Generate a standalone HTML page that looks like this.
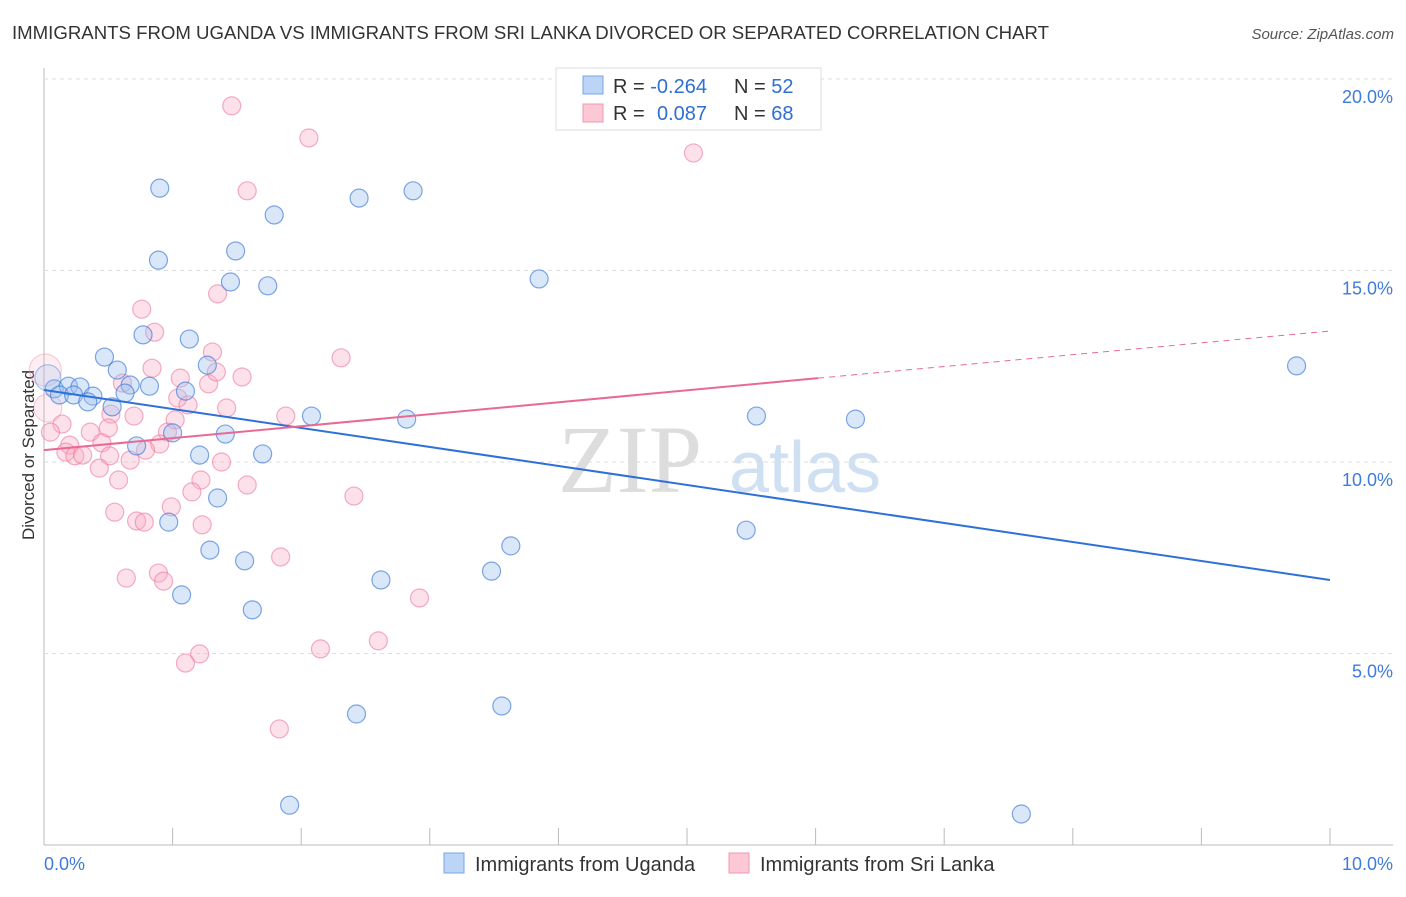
<!DOCTYPE html>
<html><head><meta charset="utf-8"><style>
body{margin:0;background:#fff;font-family:"Liberation Sans",sans-serif;}
</style></head><body>
<svg id="chart" width="1406" height="892" style="font-family:'Liberation Sans',sans-serif">
<text x="12" y="39" font-size="18.5" fill="#333" textLength="1037" lengthAdjust="spacingAndGlyphs">IMMIGRANTS FROM UGANDA VS IMMIGRANTS FROM SRI LANKA DIVORCED OR SEPARATED CORRELATION CHART</text>
<text x="1394" y="39" font-size="15" fill="#555" text-anchor="end" font-style="italic">Source: ZipAtlas.com</text>
<text transform="translate(34,455) rotate(-90)" font-size="17" fill="#333" text-anchor="middle">Divorced or Separated</text>
<text x="630" y="492" font-size="96" fill="#ddd" font-family="Liberation Serif,serif" text-anchor="middle">ZIP</text>
<text x="805" y="492" font-size="72" fill="#cfe0f3" text-anchor="middle">atlas</text>
<g id="grid"></g><g id="pts"></g><g id="lines"></g>
<g>
<rect x="556" y="68" width="265" height="62" fill="#fff" stroke="#ddd"/>
<rect x="583" y="76" width="20" height="18" fill="#bcd4f5" stroke="#7aa6e6"/>
<rect x="583" y="104" width="20" height="18" fill="#fcc8d6" stroke="#f097b0"/>
<text x="613" y="93" font-size="20" fill="#333">R = <tspan fill="#2f6fd1">-0.264</tspan><tspan x="734">N = </tspan><tspan fill="#2f6fd1">52</tspan></text>
<text x="613" y="120" font-size="20" fill="#333">R = <tspan fill="#2f6fd1" x="657">0.087</tspan><tspan x="734">N = </tspan><tspan fill="#2f6fd1">68</tspan></text>
</g>
<g>
<rect x="444" y="853" width="20" height="20" fill="#bcd4f5" stroke="#7aa6e6"/>
<text x="475" y="871" font-size="20" fill="#333">Immigrants from Uganda</text>
<rect x="729" y="853" width="20" height="20" fill="#fcc8d6" stroke="#f097b0"/>
<text x="760" y="871" font-size="20" fill="#333">Immigrants from Sri Lanka</text>
</g>
</svg>
<script>
const xTicks=[0,1,2,3,4,5,6,7,8,9,10];
const yTicks=[5,10,15,20];
const yTickLabels=["5.0%","10.0%","15.0%","20.0%"];
const ugandaX=[0.90,1.79,2.45,2.87,1.49,0.89,1.45,1.74,3.85,0.77,1.13,0.47,1.27,0.57,0.08,0.19,0.28,0.12,0.23,0.38,0.67,0.82,1.10,0.63,0.34,0.53,2.08,2.82,5.54,6.31,1.00,1.41,0.72,1.21,1.70,1.35,0.97,5.46,3.63,1.29,1.56,2.62,3.48,1.07,1.62,2.43,3.56,1.91,7.60,9.74,0.03];
const ugandaY=[17.15,16.45,16.89,17.08,15.51,15.27,14.70,14.60,14.78,13.32,13.21,12.74,12.53,12.40,11.91,11.98,11.96,11.75,11.75,11.72,12.01,11.98,11.85,11.80,11.57,11.44,11.20,11.12,11.20,11.12,10.76,10.73,10.42,10.18,10.21,9.06,8.43,8.22,7.81,7.70,7.42,6.92,7.15,6.53,6.14,3.42,3.63,1.04,0.81,12.51,12.2];
const sriX=[1.46,2.06,5.05,1.58,1.35,0.76,0.86,2.31,1.31,0.84,0.61,1.06,1.54,1.28,1.34,1.04,1.12,1.42,1.88,0.70,0.52,1.02,0.14,0.05,0.36,0.50,0.96,0.20,0.45,0.90,0.79,0.17,0.24,0.30,0.51,0.67,1.38,0.43,0.58,1.22,1.58,1.15,0.99,2.41,0.55,0.72,0.78,1.23,1.84,0.89,0.64,0.93,2.92,2.60,2.15,1.21,1.10,1.83,0.01,0.03];
const sriY=[19.30,18.46,18.07,17.08,14.39,13.99,13.39,12.72,12.87,12.45,12.06,12.19,12.22,12.04,12.35,11.67,11.49,11.41,11.20,11.20,11.25,11.10,10.99,10.78,10.78,10.89,10.78,10.44,10.50,10.47,10.31,10.26,10.16,10.18,10.16,10.05,10.00,9.84,9.53,9.53,9.40,9.22,8.83,9.11,8.69,8.46,8.43,8.36,7.52,7.10,6.97,6.89,6.45,5.33,5.12,4.99,4.75,3.03,12.40,11.41];
const ugandaLine=[11.88,6.92];
const sriLine=[10.31,12.19,13.42];
const sriSolidEnd=6.02;
const NS="http://www.w3.org/2000/svg";
const X=v=>44+v*128.6, Y=v=>845-v*38.3;
function mk(tag,attrs,parent){const e=document.createElementNS(NS,tag);for(const k in attrs)e.setAttribute(k,attrs[k]);parent.appendChild(e);return e;}
const grid=document.getElementById('grid');
const ax=mk('line',{x1:44,y1:68,x2:44,y2:845,stroke:'#bbb'},grid);


const bx=mk('line',{x1:44,y1:845,x2:1393,y2:845,stroke:'#bbb'},grid);


yTicks.forEach((t,i)=>{
 const g=mk('line',{x1:44,y1:Y(t),x2:1393,y2:Y(t),stroke:'#ddd','stroke-dasharray':'4,4'},grid);
 
 
 const tx=mk('text',{x:1393,y:Y(t)+24,'font-size':18,fill:'#3f7bd9','text-anchor':'end'},grid);
 tx.textContent=yTickLabels[i];
 
 
});
xTicks.forEach(t=>{
 const l=mk('line',{x1:X(t),y1:828,x2:X(t),y2:845,stroke:'#bbb'},grid);
 
 
});
const xl0=mk('text',{x:44,y:870,'font-size':18,fill:'#3f7bd9'},grid);xl0.textContent='0.0%';


const xl1=mk('text',{x:1393,y:870,'font-size':18,fill:'#3f7bd9','text-anchor':'end'},grid);xl1.textContent='10.0%';


const pts=document.getElementById('pts');
sriX.forEach((x,i)=>{
 const big=i>=58;
 const r=big?(i==58?16:14):9;
 const c=mk('circle',{cx:X(x),cy:Y(sriY[i]),r:r,fill:big?'rgba(248,170,195,0.2)':'rgba(248,170,195,0.35)',stroke:big?'rgba(236,120,155,0.35)':'rgba(236,120,155,0.6)','stroke-width':1.2},pts);
 
 
});
ugandaX.forEach((x,i)=>{
 const big=i==ugandaX.length-1;
 const r=big?13:9;
 const c=mk('circle',{cx:X(x),cy:Y(ugandaY[i]),r:r,fill:big?'rgba(160,195,240,0.25)':'rgba(160,195,240,0.4)',stroke:big?'rgba(60,120,215,0.4)':'rgba(60,120,215,0.65)','stroke-width':1.2},pts);
 
 
});
const lines=document.getElementById('lines');
const bl=mk('line',{x1:X(0),y1:Y(ugandaLine[0]),x2:X(10),y2:Y(ugandaLine[1]),stroke:'#2f70d8','stroke-width':2},lines);


const pl=mk('line',{x1:X(0),y1:Y(sriLine[0]),x2:X(sriSolidEnd),y2:Y(sriLine[1]),stroke:'#e86a94','stroke-width':2},lines);


const pd=mk('line',{x1:X(sriSolidEnd),y1:Y(sriLine[1]),x2:X(10),y2:Y(sriLine[2]),stroke:'#e86a94','stroke-width':1,'stroke-dasharray':'6,5'},lines);


</script>
</body></html>
